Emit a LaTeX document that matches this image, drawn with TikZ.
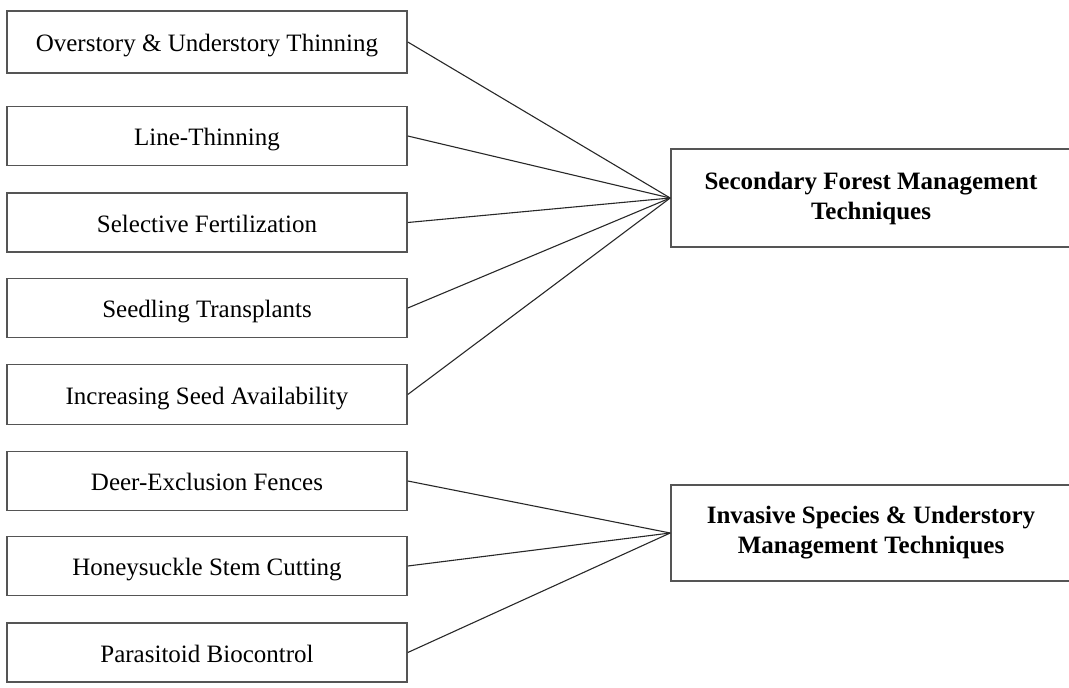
\documentclass[tikz,border=0pt]{standalone}
\usepackage{fontspec}
\setmainfont{Liberation Serif}
\usepackage{xcolor}
\usepackage{tikz}
\definecolor{boxgray}{RGB}{85,85,85}
\definecolor{linegray}{RGB}{40,40,40}

\begin{document}
\begin{tikzpicture}[x=1pt, y=-1pt, font=\fontsize{25}{30}\selectfont,
  leafbox/.style={draw=boxgray, line width=1.6pt, minimum width=400pt, minimum height=59pt, inner sep=0pt, text height=19pt, text depth=0pt},
  groupbox/.style={draw=boxgray, line width=1.6pt, minimum width=400pt, minimum height=97pt, inner sep=0pt, align=center, font=\fontsize{25}{30}\selectfont\bfseries},
  link/.style={linegray, line width=1.1pt}]
  \useasboundingbox (0,0) rectangle (1069,688);
  % technique boxes on the left
  \foreach \i/\y/\h/\t in {1/42/62/{Overstory \& Understory Thinning}, 2/136/59/{Line-Thinning},
      3/222.5/59/{Selective Fertilization}, 4/308/59/{Seedling Transplants},
      5/394.5/60/{Increasing Seed Availability}, 6/481/59/{Deer-Exclusion Fences},
      7/566/59/{Honeysuckle Stem Cutting}, 8/652.5/59/{Parasitoid Biocontrol}} {
    \node[leafbox, minimum height=\h pt] (leaf\i) at (207,\y) {\t};
  }
  % group boxes on the right
  \node[groupbox, minimum height=98pt] (secondary) at (871,198) {Secondary Forest Management\\Techniques};
  \node[groupbox, minimum height=96pt] (invasive) at (871,533) {Invasive Species \& Understory\\Management Techniques};
  \foreach \i in {1,...,5} {
    \draw[link] (leaf\i.east) -- (secondary.west);
  }
  \foreach \i in {6,7,8} {
    \draw[link] (leaf\i.east) -- (invasive.west);
  }
\end{tikzpicture}
\end{document}
